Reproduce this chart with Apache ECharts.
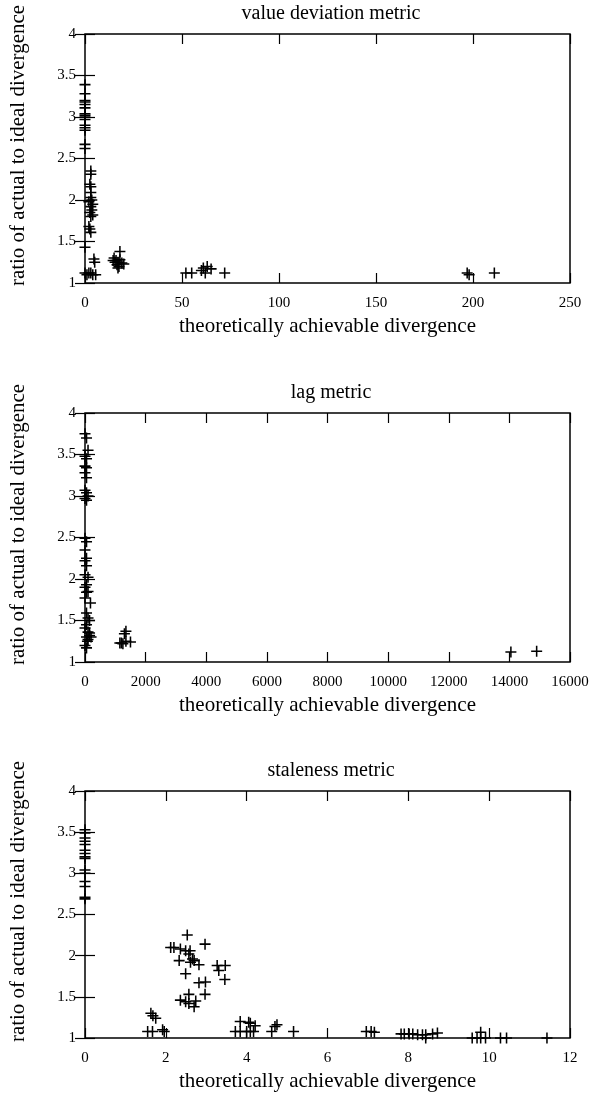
<!DOCTYPE html>
<html>
<head>
<meta charset="utf-8">
<script src="https://cdn.jsdelivr.net/npm/echarts@6/dist/echarts.min.js"></script>
<style>
html,body{margin:0;padding:0;background:#fff;}
#chart{width:600px;height:1093px;}
</style>
</head>
<body>
<div id="chart"></div>
<script>
// ---- data ----
const panelTitles = ['value deviation metric', 'lag metric', 'staleness metric'];
const xAxisName = 'theoretically achievable divergence';
const yAxisName = 'ratio of actual to ideal divergence';

const xTicksValueDev = [0, 50, 100, 150, 200, 250];
const xTicksLag = [0, 2000, 4000, 6000, 8000, 10000, 12000, 14000, 16000];
const xTicksStaleness = [0, 2, 4, 6, 8, 10, 12];
const yTicks = [1, 1.5, 2, 2.5, 3, 3.5, 4];

const valueDeviationPoints = [
  [0,3.39],[0,3.28],[0,3.2],[0,3.18],[0,3.15],[0,3.11],[0,3.04],[0,3.02],[0,3.0],[0,2.97],
  [0,2.9],[0,2.87],[0,2.84],[0,2.67],[0,2.62],[0,1.43],[0,1.12],[1,1.1],
  [3,2.35],[3,2.31],[2.5,2.19],[3,2.16],[3,2.09],[3,2.03],[3.5,2.0],[2,1.98],[4,1.95],
  [3,1.92],[3.5,1.88],[2.5,1.85],[4,1.82],[3,1.8],[2,1.68],[2.5,1.65],[3,1.61],
  [4.6,1.29],[5,1.25],[3,1.12],[4,1.1],[5.5,1.1],[2,1.12],
  [15,1.3],[16,1.27],[17,1.25],[18,1.38],[16.5,1.22],[17.5,1.2],[19,1.24],[15.5,1.25],
  [18,1.28],[17,1.18],[20,1.23],[14.5,1.27],
  [52,1.12],[55,1.12],[60,1.15],[61,1.18],[62,1.12],[63,1.2],[65,1.17],[72,1.12],
  [197,1.12],[198,1.1],[211,1.12]
];

const lagPoints = [
  [0,3.75],[50,3.7],[100,3.55],[0,3.48],[50,3.45],[0,3.36],[50,3.34],[0,3.28],[50,3.22],
  [0,3.07],[50,3.04],[100,3.0],[0,2.97],[50,2.95],[0,2.49],[50,2.45],[0,2.35],[50,2.25],
  [0,2.22],[50,2.16],[0,2.05],[100,2.02],[50,1.93],[0,1.9],[100,1.85],[50,1.84],[0,1.77],
  [180,1.71],[50,1.59],[100,1.53],[150,1.5],[50,1.45],[0,1.41],[100,1.36],[150,1.35],
  [50,1.3],[200,1.3],[100,1.27],[0,1.2],[50,1.17],[150,1.32],[80,1.25],
  [1350,1.37],[1300,1.34],[1200,1.23],[1250,1.22],[1350,1.25],[1500,1.24],[1150,1.23],
  [14050,1.12],[14900,1.13]
];

const stalenessPoints = [
  [0,3.53],[0,3.49],[0,3.43],[0,3.39],[0,3.35],[0,3.28],[0,3.24],[0,3.2],[0,3.18],
  [0,3.04],[0,3.0],[0,2.9],[0,2.84],[0,2.71],[0,2.69],
  [1.63,1.3],[1.68,1.27],[1.75,1.24],[1.55,1.08],[1.67,1.08],[1.92,1.1],[1.96,1.08],
  [2.12,2.1],[2.2,2.1],[2.36,2.08],[2.53,2.25],[2.6,2.06],[2.97,2.14],[2.49,2.06],[2.57,2.02],
  [2.33,1.94],[2.7,1.94],[2.82,1.89],[2.61,1.92],[2.66,1.96],[2.49,1.78],
  [3.27,1.88],[3.47,1.88],[3.31,1.82],[3.46,1.71],[2.82,1.67],[2.98,1.68],
  [2.57,1.53],[2.97,1.53],[2.36,1.46],[2.49,1.44],[2.74,1.45],[2.7,1.38],[2.57,1.42],
  [3.84,1.2],[4.05,1.19],[4.09,1.18],[4.21,1.15],
  [3.72,1.08],[3.84,1.08],[4.0,1.08],[4.09,1.08],[4.17,1.08],
  [4.62,1.08],[4.75,1.16],[4.7,1.14],[5.16,1.08],[6.96,1.08],[7.08,1.08],
  [7.16,1.07],[7.82,1.05],[7.9,1.05],[8.02,1.05],[8.11,1.05],[8.23,1.04],[8.35,1.04],
  [8.43,1.04],[8.6,1.05],[8.72,1.06],[8.43,1.0],
  [9.58,1.0],[9.7,1.0],[9.79,1.0],[9.91,1.0],[9.79,1.07],[10.28,1.0],[10.43,1.0],[11.43,1.0]
];

// ---- chart ----
const FONT = '"Liberation Serif", "DejaVu Serif", serif';
const crossPath = 'path://M4.3,0H5.7V10H4.3Z M0,4.3H10V5.7H0Z';
const panels = [
  { top: 34, ticks: xTicksValueDev, data: valueDeviationPoints },
  { top: 413, ticks: xTicksLag, data: lagPoints },
  { top: 791, ticks: xTicksStaleness, data: stalenessPoints }
];
const H = 249;

const grids = [], xAxes = [], yAxes = [], series = [], titles = [];
panels.forEach((p, i) => {
  grids.push({ left: 82, width: 488, top: p.top, height: H, show: true,
    borderColor: '#000', borderWidth: 1.5, backgroundColor: 'transparent', containLabel: false });
  const xmin = p.ticks[0], xmax = p.ticks[p.ticks.length - 1], xint = p.ticks[1] - p.ticks[0];
  const baseX = { gridIndex: i, type: 'value', min: xmin, max: xmax, interval: xint,
    splitLine: { show: false }, axisLine: { show: false },
    axisTick: { show: true, inside: true, length: 10, lineStyle: { color: '#000', width: 1.2 } } };
  xAxes.push(Object.assign({}, baseX, { position: 'bottom',
    axisLabel: { show: true, color: '#000', fontFamily: FONT, fontSize: 15, margin: 13,
      formatter: v => String(v) },
    name: xAxisName, nameLocation: 'middle', nameGap: 33,
    nameTextStyle: { color: '#000', fontFamily: FONT, fontSize: 21 } }));
  xAxes.push(Object.assign({}, baseX, { position: 'top', axisLabel: { show: false } }));
  const baseY = { gridIndex: i, type: 'value', min: yTicks[0], max: yTicks[yTicks.length - 1],
    interval: yTicks[1] - yTicks[0], splitLine: { show: false }, axisLine: { show: false },
    axisTick: { show: true, inside: true, length: 10, lineStyle: { color: '#000', width: 1.2 } } };
  yAxes.push(Object.assign({}, baseY, { position: 'left',
    axisLabel: { show: true, color: '#000', fontFamily: FONT, fontSize: 15, margin: 9,
      formatter: v => String(v) },
    name: yAxisName, nameLocation: 'middle', nameGap: 56, nameRotate: 90,
    nameTextStyle: { color: '#000', fontFamily: FONT, fontSize: 21, padding: [0, 0, 0, 26] } }));
  yAxes.push(Object.assign({}, baseY, { position: 'right', axisLabel: { show: false } }));
  series.push({ type: 'scatter', xAxisIndex: i * 2, yAxisIndex: i * 2, data: p.data,
    symbol: crossPath, symbolSize: 11, clip: false,
    itemStyle: { color: '#000', opacity: 1 }, emphasis: { disabled: true }, silent: true });
  titles.push({ text: panelTitles[i], left: 326, textAlign: 'center', top: p.top - 35,
    textStyle: { color: '#000', fontFamily: FONT, fontSize: 20, fontWeight: 'normal' } });
});

const chart = echarts.init(document.getElementById('chart'), null, { renderer: 'canvas' });
chart.setOption({
  animation: false,
  backgroundColor: '#fff',
  title: titles,
  grid: grids,
  xAxis: xAxes,
  yAxis: yAxes,
  series: series
});
</script>
</body>
</html>
